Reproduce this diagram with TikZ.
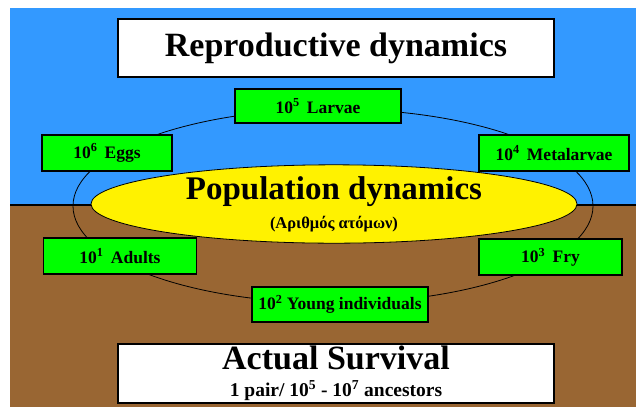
\documentclass[tikz,border=0pt]{standalone}
\usepackage{fontspec}
\setmainfont{Liberation Serif}
\usetikzlibrary{shapes.geometric}
\definecolor{sky}{HTML}{3399FF}
\definecolor{soil}{HTML}{996633}

\begin{document}
\begin{tikzpicture}[x=1pt,y=-1pt,
  stage node/.style={rectangle,draw,fill=green,line width=1.2pt,minimum height=35pt,inner sep=0pt,
    font=\fontsize{17.5}{19}\selectfont\bfseries},
  banner node/.style={rectangle,draw,fill=white,line width=1.2pt,minimum width=436pt,inner sep=0pt,
    align=center,font=\fontsize{34}{36}\selectfont\bfseries}]

  \useasboundingbox (0,0) rectangle (636,407);
  \fill[sky] (10,8) rectangle (636,205);
  \fill[soil] (10,205) rectangle (636,407);
  \draw[line width=1.2pt] (10,205) -- (636,205);

  % life cycle
  \coordinate (hub) at (333,206);
  \draw[line width=0.8pt] (hub) ellipse [x radius=260, y radius=97];

  \node[ellipse,draw,fill=yellow,line width=0.8pt,minimum width=486pt,minimum height=66pt,inner sep=0pt,
    align=center,font=\fontsize{33}{36}\selectfont\bfseries] (pop) at (334,204)
    {Population dynamics\\[-7pt]{\fontsize{16.5}{17}\selectfont (Αριθμός ατόμων)}};

  \node[banner node,minimum height=58pt] (top) at (336,48) {Reproductive dynamics};
  \node[banner node,minimum height=59pt] (bottom) at (336,373.5)
    {\raisebox{-2pt}{Actual Survival}\\[-7pt]{\fontsize{19.5}{20}\selectfont 1 pair/ 10\textsuperscript{5} - 10\textsuperscript{7} ancestors}};

  \node[stage node,minimum width=130pt,minimum height=36pt] (1) at (107,153) {10\textsuperscript{6}\ \,Eggs};
  \node[stage node,minimum width=166pt,minimum height=34pt] (2) at (318,106) {10\textsuperscript{5}\ \,Larvae};
  \node[stage node,minimum width=150pt,minimum height=36pt] (3) at (554,153) {10\textsuperscript{4}\ \,Metalarvae};
  \node[stage node,minimum width=143pt,minimum height=36pt] (4) at (550.5,257) {10\textsuperscript{3}\ \,Fry};
  \node[stage node,minimum width=176pt] (5) at (340,304.5) {10\textsuperscript{2}\ Young individuals};
  \node[stage node,minimum width=153pt,minimum height=36pt] (6) at (120,256) {10\textsuperscript{1}\ \,Adults};
\end{tikzpicture}
\end{document}
